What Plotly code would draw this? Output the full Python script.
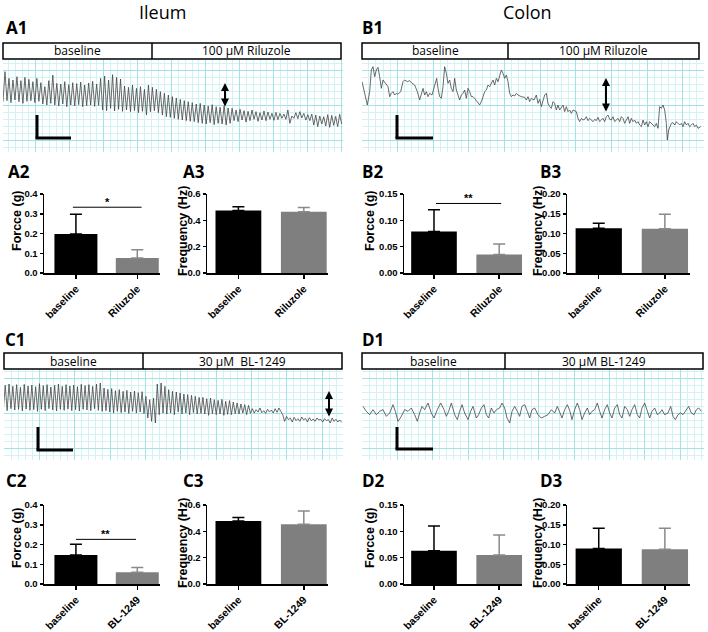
import numpy as np
import plotly.graph_objects as go

W, H = 708, 632
def px(x): return x / W
def py(y): return 1 - y / H

# ---------------- DATA ----------------
cats_riluzole = ["baseline", "Riluzole"]
cats_bl = ["baseline", "BL-1249"]

force_ileum_ril = [0.197, 0.076]; force_ileum_ril_err = [0.100, 0.042]
freq_ileum_ril = [0.474, 0.466]; freq_ileum_ril_err = [0.030, 0.031]
force_colon_ril = [0.079, 0.035]; force_colon_ril_err = [0.041, 0.020]
freq_colon_ril = [0.113, 0.112]; freq_colon_ril_err = [0.013, 0.037]
force_ileum_bl = [0.147, 0.059]; force_ileum_bl_err = [0.054, 0.025]
freq_ileum_bl = [0.478, 0.453]; freq_ileum_bl_err = [0.028, 0.101]
force_colon_bl = [0.063, 0.055]; force_colon_bl_err = [0.047, 0.038]
freq_colon_bl = [0.090, 0.088]; freq_colon_bl_err = [0.051, 0.053]

sig_A2 = ("*", 0.333); sig_B2 = ("**", 0.132); sig_C2 = ("**", 0.226)

# recorded traces (arbitrary amplitude units), alternating trough/peak
ileum_riluzole_trace = [
    175, 265, 178, 245, 172, 240, 180, 250, 175, 238, 170, 248, 176, 242, 178, 235, 172, 245, 176,
    232, 168, 220, 165, 238, 170,
    255, 165, 230, 162, 228, 168, 235, 160, 226, 165, 232, 162, 229, 166, 234, 160, 225, 163, 231, 165, 236, 161, 228, 164,
    245, 150, 252, 148, 240, 155, 256, 147, 248, 152, 243, 146,
    222, 150, 218, 145, 225, 148, 215, 142, 220, 146, 212, 135,
    225, 145, 218, 148, 212, 142,
    205, 135, 200, 130, 195, 128, 190, 125, 186, 122, 182, 120, 178, 118, 175, 116,
    172, 115, 168, 112, 170, 110, 165, 108, 162, 112, 166, 106, 160, 110, 158, 108, 163, 105, 156, 110,
    155, 118, 150, 115, 152, 120, 148, 114, 146, 118, 150, 122, 145, 116, 142, 120, 147, 118, 144, 122, 140, 119, 143, 121,
    140, 125, 138, 122, 150, 110, 132, 125, 142, 124, 145, 126, 140, 120, 136, 118,
    138, 105, 135, 100, 132, 108, 130, 102, 136, 98, 134, 104, 131, 100, 137, 108]

ileum_bl_trace = [
    175, 248, 172, 252, 178, 245, 174, 250, 176, 242, 171, 251, 177, 246, 173, 249, 175, 244, 170, 253,
    176, 247, 172, 250, 178, 243, 174, 248, 171, 252, 176, 245, 173, 250, 177, 246, 172, 249, 175, 244,
    171, 251, 176, 247, 174, 250, 172, 245, 178, 252, 173,
    255, 170, 240, 172, 236, 168, 238, 165, 232, 170, 235, 166, 230, 168, 233, 164, 228, 170, 231, 165, 226, 168, 229, 163,
    215, 150, 205, 140, 210, 135,
    252, 160, 255, 165, 245, 162,
    235, 165, 230, 160, 228, 168, 225, 162, 222, 165, 220, 160, 218, 166, 215, 162, 212, 164,
    212, 162, 208, 158, 210, 163, 205, 160, 203, 162, 206, 158, 200, 161, 202, 160, 198, 163,
    195, 162, 192, 165, 190, 160, 188, 164,
    178, 165, 175, 168, 180, 166, 172, 164, 176, 168, 174, 165, 178, 167, 180, 170,
    160, 140, 155, 145, 150, 138, 152, 142, 148, 140, 153, 144, 149, 138, 151, 142, 147, 140, 150, 144,
    146, 138, 148, 142, 145, 135, 150, 140, 146, 138, 144, 137]

colon_riluzole_t = [12, 20, 28, 35, 40, 45, 50, 55, 60, 65, 70, 75, 80, 85, 90, 95, 100, 105, 110, 115,
    120, 128, 135, 140, 148, 155, 162, 170, 178, 185, 190, 195, 200, 205, 210, 215, 222, 230, 236, 240,
    245, 250, 255, 260, 265, 270, 275, 280, 285, 290, 295, 300, 305, 310, 315, 320, 325, 330, 335, 340,
    345, 350, 358, 365, 372, 380, 385, 390, 395, 400, 405, 410, 415, 420, 425, 430, 435, 440, 445, 450,
    455, 460, 465, 470, 475, 480, 490, 500, 505, 510, 515, 520, 528, 535, 540, 545, 550, 555, 560, 565,
    570, 575, 580, 585, 590, 595, 600, 605, 610, 615, 620, 625, 630, 635, 640, 645, 655, 660, 665, 670,
    675, 680, 685, 690, 695, 700, 705, 710, 715, 720, 725, 730, 735, 740, 745, 750, 755, 760, 765, 770,
    775, 780, 785, 790, 795, 800, 805, 810, 815, 820, 825, 830, 835, 840, 845, 850, 855, 860, 865, 870,
    875, 880, 885, 890, 895, 900, 905, 910, 915, 920, 925, 928, 932, 935, 940, 945, 950, 955, 960, 965,
    970, 975, 980, 985, 990, 995, 1000, 1005, 1010, 1015, 1020, 1028]
colon_riluzole_a = [235, 200, 165, 205, 270, 280, 250, 270, 278, 250, 215, 240, 232, 225, 220, 190, 200, 205, 195, 200,
    197, 205, 235, 240, 235, 238, 230, 225, 205, 180, 200, 215, 195, 205, 190, 200, 195, 225, 245, 215,
    190, 185, 220, 280, 260, 230, 240, 215, 205, 245, 210, 195, 180, 195, 200, 210, 185, 215, 205, 190,
    190, 185, 175, 165, 180, 205, 210, 225, 220, 230, 240, 225, 245, 235, 255, 270, 260, 245, 255, 235,
    200, 190, 195, 192, 200, 195, 190, 188, 180, 190, 175, 185, 180, 195, 170, 182, 160, 180, 195, 200,
    170, 160, 155, 175, 170, 150, 165, 150, 160, 165, 145, 160, 145, 150, 140, 150, 145, 125, 115, 125,
    120, 122, 130, 118, 125, 120, 115, 122, 118, 128, 115, 120, 125, 115, 130, 135, 122, 120, 130, 115,
    120, 125, 115, 130, 125, 110, 120, 130, 110, 125, 115, 120, 110, 115, 105, 100, 120, 105, 115, 100,
    115, 110, 105, 100, 110, 95, 160, 155, 165, 150, 110, 60, 90, 100, 110, 112, 105, 115, 110, 105,
    110, 100, 115, 105, 110, 100, 105, 110, 100, 105, 95, 100]

colon_bl_t = [15, 25, 35, 45, 55, 65, 75, 85, 95, 105, 112, 120, 130, 140, 150, 160, 170, 178, 185, 192,
    200, 210, 220, 228, 238, 248, 258, 265, 272, 280, 290, 298, 305, 312, 320, 330, 338, 345, 355, 362,
    370, 378, 385, 392, 400, 408, 415, 425, 432, 440, 447, 455, 462, 470, 478, 485, 492, 500, 508, 515,
    522, 530, 540, 550, 560, 570, 580, 590, 598, 605, 612, 620, 628, 636, 642, 650, 658, 665, 672, 680,
    688, 695, 702, 710, 718, 725, 732, 740, 748, 755, 762, 770, 778, 785, 792, 800, 808, 815, 822, 830,
    838, 845, 852, 860, 868, 875, 882, 890, 898, 905, 912, 920, 930, 938, 945, 952, 960, 968, 975, 985,
    992, 1000, 1008, 1015, 1022, 1030]
colon_bl_a = [185, 170, 160, 175, 160, 170, 175, 155, 165, 190, 170, 140, 155, 175, 170, 180, 160, 140, 165, 185,
    175, 195, 165, 150, 175, 195, 175, 155, 170, 195, 160, 145, 170, 190, 165, 145, 170, 185, 150, 160,
    180, 190, 160, 150, 180, 165, 175, 180, 195, 180, 150, 135, 170, 185, 170, 155, 185, 190, 170, 150,
    175, 180, 160, 150, 155, 160, 175, 165, 185, 170, 150, 175, 190, 170, 145, 175, 195, 175, 145, 165,
    180, 160, 170, 175, 195, 170, 150, 175, 190, 165, 150, 180, 190, 160, 150, 185, 175, 155, 175, 190,
    160, 150, 180, 195, 170, 150, 170, 180, 160, 165, 175, 160, 165, 185, 155, 145, 160, 165, 160, 175,
    185, 165, 160, 175, 180, 170]

# ---------------- FIGURE ----------------
fig = go.Figure()
layout = {}
shapes, annotations = [], []

MAJ = "#a3e2e6"
MIN = "#d2f2f3"

def trace_panel(idx, t, a, xdom, ydom, xr, x0, xd):
    xa, ya = f"x{idx}", f"y{idx}"
    fig.add_trace(go.Scatter(x=t, y=a, mode="lines", line=dict(color="#454545", width=0.8),
                             xaxis=xa, yaxis=ya, showlegend=False, hoverinfo="skip"))
    layout[f"xaxis{idx}"] = dict(domain=[px(xdom[0]), px(xdom[1])], range=xr, anchor=ya,
        showgrid=True, gridcolor=MAJ, gridwidth=1, tick0=x0, dtick=xd,
        minor=dict(showgrid=True, tick0=x0, dtick=xd / 5, gridcolor=MIN, gridwidth=1),
        showticklabels=False, zeroline=False, showline=False, ticks="", fixedrange=True)
    layout[f"yaxis{idx}"] = dict(domain=[py(ydom[1]), py(ydom[0])], range=[24, 300], anchor=xa,
        showgrid=True, gridcolor=MAJ, gridwidth=1, tick0=60, dtick=105,
        minor=dict(showgrid=True, tick0=60, dtick=21, gridcolor=MIN, gridwidth=1),
        showticklabels=False, zeroline=False, showline=False, ticks="", fixedrange=True)

n1 = len(ileum_riluzole_trace)
trace_panel(1, np.linspace(9, 1025, n1), ileum_riluzole_trace, (3, 343), (60, 152), [9, 1029], 107, 102)
trace_panel(2, colon_riluzole_t, colon_riluzole_a, (362, 704), (60, 152), [12, 1038], 118, 107)
n3 = len(ileum_bl_trace)
trace_panel(3, np.linspace(10, 1025, n3), ileum_bl_trace, (4, 343), (368, 460), [12, 1029], 118, 106)
trace_panel(4, colon_bl_t, colon_bl_a, (362, 704), (368, 460), [12, 1038], 118, 106)

XTICKF = dict(family="Arial, Liberation Sans, sans-serif", size=10.5, color="black", weight="bold")
YTICKF = dict(family="Arial, Liberation Sans, sans-serif", size=9.5, color="black", weight="bold")

def bar_panel(idx, cats, vals, errs, xdom, ydom, xr, ymax, dtick, fmt):
    xa, ya = f"x{idx}", f"y{idx}"
    cols = ["#000000", "#7f7f7f"]
    ecols = ["#000000", "#8a8a8a"]
    for i in range(2):
        fig.add_trace(go.Bar(x=[i], y=[vals[i]], width=0.7,
            marker=dict(color=cols[i], line=dict(width=0)),
            error_y=dict(type="data", symmetric=False, array=[errs[i]], arrayminus=[0],
                         color=ecols[i], thickness=1.5, width=6),
            xaxis=xa, yaxis=ya, showlegend=False, hoverinfo="skip"))
    layout[f"xaxis{idx}"] = dict(domain=[px(xdom[0]), px(xdom[1])], range=xr, anchor=ya,
        tickvals=[0, 1], ticktext=cats, tickangle=-45, tickfont=XTICKF, automargin=False,
        showline=True, linecolor="black", linewidth=1.5, ticks="outside", ticklen=4,
        tickwidth=1.5, tickcolor="black", showgrid=False, zeroline=False, fixedrange=True)
    layout[f"yaxis{idx}"] = dict(domain=[py(ydom[1]), py(ydom[0])], range=[0, ymax], anchor=xa,
        dtick=dtick, tick0=0, tickformat=fmt, tickfont=YTICKF, automargin=False,
        showline=True, linecolor="black", linewidth=1.5, ticks="outside", ticklen=3,
        tickwidth=1.5, tickcolor="black", showgrid=False, zeroline=False, fixedrange=True)

bar_panel(5, cats_riluzole, force_ileum_ril, force_ileum_ril_err, (44, 160), (194, 273), [-0.52, 1.37], 0.4, 0.1, ".1f")
bar_panel(6, cats_riluzole, freq_ileum_ril, freq_ileum_ril_err, (207, 328), (194, 273), [-0.48, 1.37], 0.6, 0.2, ".1f")
bar_panel(7, cats_riluzole, force_colon_ril, force_colon_ril_err, (404, 522), (194, 273), [-0.46, 1.35], 0.15, 0.05, ".2f")
bar_panel(8, cats_riluzole, freq_colon_ril, freq_colon_ril_err, (567, 690), (194, 273), [-0.48, 1.38], 0.20, 0.05, ".2f")
bar_panel(9, cats_bl, force_ileum_bl, force_ileum_bl_err, (44, 160), (505, 584), [-0.52, 1.37], 0.4, 0.1, ".1f")
bar_panel(10, cats_bl, freq_ileum_bl, freq_ileum_bl_err, (207, 328), (505, 584), [-0.48, 1.37], 0.6, 0.2, ".1f")
bar_panel(11, cats_bl, force_colon_bl, force_colon_bl_err, (404, 522), (505, 584), [-0.46, 1.35], 0.15, 0.05, ".2f")
bar_panel(12, cats_bl, freq_colon_bl, freq_colon_bl_err, (567, 690), (505, 584), [-0.48, 1.38], 0.20, 0.05, ".2f")

# significance bars
for idx, (txt, yv), x0, x1 in [(5, sig_A2, -0.05, 1.07), (7, sig_B2, 0.03, 1.03), (9, sig_C2, 0.0, 0.98)]:
    shapes.append(dict(type="line", xref=f"x{idx}", yref=f"y{idx}", x0=x0, x1=x1, y0=yv, y1=yv,
                       line=dict(color="black", width=1)))
    annotations.append(dict(xref=f"x{idx}", yref=f"y{idx}", x=(x0 + x1) / 2, y=yv, text=txt,
                            showarrow=False, yanchor="bottom", yshift=-3,
                            font=dict(family="Arial", size=11, color="black", weight="bold")))

# y-axis titles
for txt, cx, cy in [("Forcce (g)", 17, 221), ("Frequency (Hz)", 183, 231),
                    ("Forcce (g)", 370, 221), ("Frequency (Hz)", 538, 231),
                    ("Forcce (g)", 17, 538), ("Frequency (Hz)", 183, 543),
                    ("Forcce (g)", 370, 538), ("Frequency (Hz)", 538, 543)]:
    annotations.append(dict(xref="paper", yref="paper", x=px(cx), y=py(cy), text=txt, textangle=-90,
                            showarrow=False, xanchor="center", yanchor="middle",
                            font=dict(family="Arial, Liberation Sans", size=12.5, color="black", weight="bold")))

# header boxes
def header(x0, x1, xd, y0, y1, t1, t2):
    shapes.append(dict(type="rect", xref="paper", yref="paper", x0=px(x0), x1=px(x1), y0=py(y1), y1=py(y0),
                       line=dict(color="black", width=1.5), fillcolor="white"))
    shapes.append(dict(type="line", xref="paper", yref="paper", x0=px(xd), x1=px(xd), y0=py(y1), y1=py(y0),
                       line=dict(color="black", width=1.5)))
    for t, a, b in [(t1, x0, xd), (t2, xd, x1)]:
        annotations.append(dict(xref="paper", yref="paper", x=px((a + b) / 2), y=py((y0 + y1) / 2), text=t,
                                showarrow=False, xanchor="center", yanchor="middle",
                                font=dict(family="Open Sans", size=12, color="black")))

header(3, 341, 152, 43, 59, "baseline", "100 µM Riluzole")
header(362, 699, 508, 43, 59, "baseline", "100 µM Riluzole")
header(4, 342, 143, 353, 369, "baseline", "30 µM  BL-1249")
header(362, 703, 505, 353, 369, "baseline", "30 µM BL-1249")

# scale bars
for vx, ytop, ybot, hx in [(37, 115, 138, 71), (397, 115, 138, 433), (38, 427, 450, 73), (397, 427, 449, 433)]:
    shapes.append(dict(type="line", xref="paper", yref="paper", x0=px(vx), x1=px(vx), y0=py(ytop), y1=py(ybot),
                       line=dict(color="black", width=3)))
    shapes.append(dict(type="line", xref="paper", yref="paper", x0=px(vx - 1.5), x1=px(hx), y0=py(ybot), y1=py(ybot),
                       line=dict(color="black", width=3)))

# double arrows
for ax_, ytop, ybot in [(225, 83, 108), (606, 78, 113), (329, 391, 418)]:
    annotations.append(dict(xref="paper", yref="paper", x=px(ax_), y=py(ytop), ax=0, ay=ybot - ytop,
                            text="", showarrow=True, arrowhead=2, arrowside="end+start",
                            arrowsize=0.8, arrowwidth=2, arrowcolor="black"))

# labels
def label(t, x, y, size=17, bold=True, anchor="left"):
    annotations.append(dict(xref="paper", yref="paper", x=px(x), y=py(y), text=t, showarrow=False,
                            xanchor=anchor, yanchor="middle",
                            font=dict(family="Open Sans", size=size, color="black",
                                      weight="bold" if bold else "normal")))

label("Ileum", 162, 12, 18, False, "center")
label("Colon", 527, 12, 18, False, "center")
for t, x, y in [("A1", 4, 27), ("B1", 360, 27), ("A2", 6, 171), ("A3", 181, 171),
                ("B2", 360, 171), ("B3", 538, 171), ("C1", 3, 339), ("D1", 360, 339),
                ("C2", 4, 481), ("C3", 181, 481), ("D2", 360, 481), ("D3", 538, 481)]:
    label(t, x, y)

fig.update_layout(width=W, height=H, margin=dict(l=0, r=0, t=0, b=0, pad=0, autoexpand=False),
                  paper_bgcolor="white", plot_bgcolor="rgba(0,0,0,0)", showlegend=False,
                  barmode="overlay", shapes=shapes, annotations=annotations, **layout)
fig.write_html("out.html", config={"displayModeBar": False, "staticPlot": True},
               post_script="document.body.style.margin='0px';document.body.style.overflow='hidden';")
